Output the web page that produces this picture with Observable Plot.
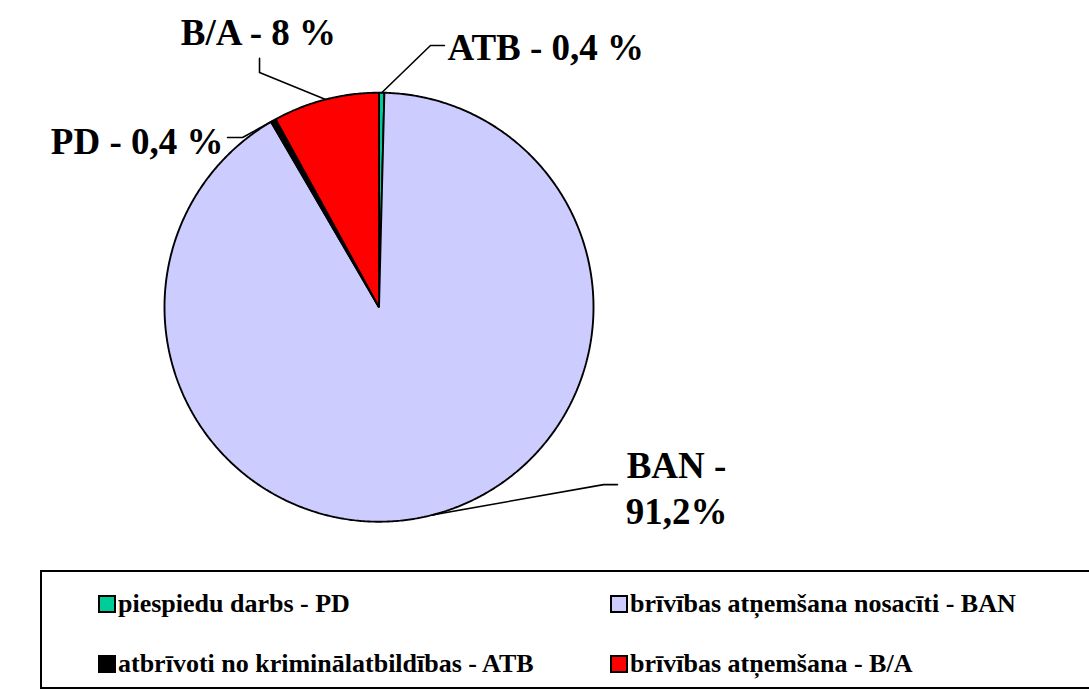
<!DOCTYPE html>
<html>
<head>
<meta charset="utf-8">
<script src="https://cdn.jsdelivr.net/npm/d3@7"></script>
<script src="https://cdn.jsdelivr.net/npm/@observablehq/plot@0.6"></script>
<style>
  html, body { margin: 0; padding: 0; background: #fff; overflow: hidden; }
  #wrap { position: relative; width: 1089px; height: 691px; overflow: hidden; }
  #legend { position: absolute; left: 40px; top: 570px; width: 1100px; height: 119px;
            border: 2px solid #000; box-sizing: border-box; }
  .item { position: absolute; font-family: 'Liberation Serif', 'Times New Roman', serif;
          font-weight: bold; font-size: 26px; line-height: 25px; white-space: nowrap; color: #000; }
  .sw { display: inline-block; width: 14px; height: 14px; border: 2px solid #000;
        vertical-align: -1px; margin-right: 2px; }
</style>
</head>
<body>
<div id="wrap"><div id="chart"></div><div id="legend"></div></div>
<script>
// ---- data ----
const categories = ["PD", "BAN", "ATB", "B/A"];
const values = [0.4, 91.2, 0.4, 8];
const colors = ["#00CC99", "#CCCCFF", "#000000", "#FF0000"];
const sliceLabels = ["ATB - 0,4 %", "BAN -\n91,2%", "PD - 0,4 %", "B/A - 8 %"];
const legendLabels = [
  "piespiedu darbs - PD",
  "brīvības atņemšana nosacīti - BAN",
  "atbrīvoti no kriminālatbildības - ATB",
  "brīvības atņemšana - B/A"
];

// ---- layout options (unit-circle coordinates) ----
const cx = 378.5, cy = 306.7, R = 214.5;
const labelLayout = [
  {elbow: [0.240, 1.220], end: [0.305, 1.220], text: [0.319, 1.220], anchor: "start"},
  {elbow: [1.047, -0.827], end: [1.112, -0.827], text: [1.387, -0.836], anchor: "middle"},
  {elbow: [-0.636, 0.791], end: [-0.706, 0.791], text: [-0.725, 0.782], anchor: "end"},
  {elbow: [-0.557, 1.094], end: [-0.557, 1.160], text: [-0.562, 1.289], anchor: "middle"}
];

const arcs = d3.pie().sort(null).value(d => d)(values);

// slice polygons
const slicePts = [];
arcs.forEach((a, i) => {
  slicePts.push({cat: categories[i], x: 0, y: 0});
  const n = Math.max(2, Math.ceil((a.endAngle - a.startAngle) / (Math.PI / 360)));
  for (let k = 0; k <= n; k++) {
    const t = a.startAngle + (a.endAngle - a.startAngle) * k / n;
    slicePts.push({cat: categories[i], x: Math.sin(t), y: Math.cos(t)});
  }
});

// leader lines
const leaderPts = [];
arcs.forEach((a, i) => {
  const m = (a.startAngle + a.endAngle) / 2;
  const L = labelLayout[i];
  leaderPts.push({i, x: Math.sin(m), y: Math.cos(m)});
  leaderPts.push({i, x: L.elbow[0], y: L.elbow[1]});
  leaderPts.push({i, x: L.end[0], y: L.end[1]});
});

const font = "'Liberation Serif', 'Times New Roman', serif";
const textMarks = sliceLabels.map((s, i) => Plot.text([{x: labelLayout[i].text[0], y: labelLayout[i].text[1], t: s}], {
  x: "x", y: "y", text: "t", textAnchor: labelLayout[i].anchor, lineAnchor: "middle",
  fontSize: 37, fontWeight: "bold", fontFamily: font, fill: "#000", lineHeight: 1.22
}));

const plot = Plot.plot({
  width: 1089,
  height: 570,
  margin: 0,
  x: {domain: [-1, 1], range: [cx - R, cx + R], axis: null},
  y: {domain: [-1, 1], range: [cy + R, cy - R], axis: null},
  color: {domain: categories, range: colors},
  style: {background: "#fff", fontFamily: font},
  marks: [
    Plot.line(slicePts, {x: "x", y: "y", z: "cat", fill: "cat", stroke: "#000", strokeWidth: 1.9,
      curve: "linear-closed", strokeLinejoin: "miter"}),
    Plot.line(leaderPts, {x: "x", y: "y", z: "i", stroke: "#000", strokeWidth: 1.6}),
    ...textMarks
  ]
});
document.getElementById("chart").appendChild(plot);

// legend
const legend = document.getElementById("legend");
const pos = [[56, 19], [568, 19], [56, 79], [568, 79]];
legendLabels.forEach((lab, i) => {
  const d = document.createElement("div");
  d.className = "item";
  d.style.left = pos[i][0] + "px";
  d.style.top = pos[i][1] + "px";
  const sw = document.createElement("span");
  sw.className = "sw";
  sw.style.background = colors[i];
  d.appendChild(sw);
  d.appendChild(document.createTextNode(lab));
  legend.appendChild(d);
});
</script>
</body>
</html>
